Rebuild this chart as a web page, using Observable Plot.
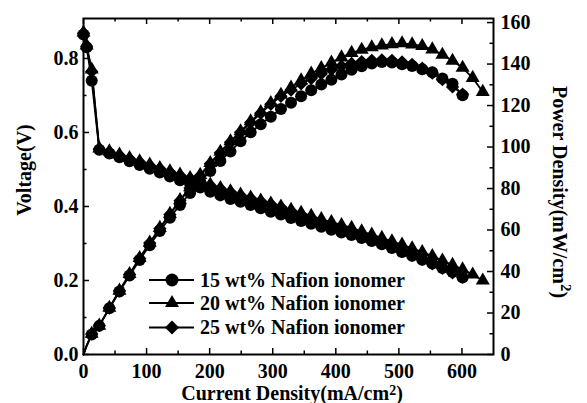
<!DOCTYPE html>
<html><head><meta charset="utf-8">
<script src="https://cdn.jsdelivr.net/npm/d3@7"></script>
<script src="https://cdn.jsdelivr.net/npm/@observablehq/plot@0.6"></script>
<style>body{margin:0;background:#fff} #chart svg{display:block}</style>
</head><body><div id="chart"></div>
<script>
// Current density (mA/cm^2)
const current = [0, 5, 13, 25, 41, 57, 73, 89, 105, 121, 137, 153, 169, 185, 201, 217, 233, 249, 265, 281, 297, 313, 329, 345, 361, 377, 393, 409, 425, 441, 457, 473, 489, 505, 521, 537, 553, 569, 585, 601, 617, 633];
// Voltage (V)
const volt15 = [0.865, 0.830, 0.740, 0.553, 0.543, 0.533, 0.522, 0.512, 0.502, 0.492, 0.481, 0.471, 0.461, 0.451, 0.440, 0.430, 0.420, 0.413, 0.404, 0.395, 0.386, 0.378, 0.369, 0.361, 0.353, 0.345, 0.337, 0.330, 0.323, 0.315, 0.307, 0.298, 0.288, 0.277, 0.267, 0.256, 0.246, 0.234, 0.223, 0.208];
const volt20 = [0.870, 0.835, 0.770, 0.557, 0.549, 0.540, 0.531, 0.522, 0.513, 0.504, 0.495, 0.486, 0.477, 0.468, 0.459, 0.450, 0.441, 0.432, 0.424, 0.416, 0.408, 0.400, 0.391, 0.383, 0.375, 0.366, 0.358, 0.350, 0.342, 0.333, 0.324, 0.315, 0.306, 0.297, 0.287, 0.277, 0.266, 0.254, 0.242, 0.230, 0.216, 0.200];
const volt25 = [0.868, 0.832, 0.765, 0.555, 0.547, 0.538, 0.529, 0.520, 0.511, 0.502, 0.493, 0.484, 0.475, 0.466, 0.457, 0.448, 0.439, 0.430, 0.422, 0.414, 0.406, 0.398, 0.388, 0.378, 0.368, 0.359, 0.349, 0.340, 0.330, 0.320, 0.310, 0.300, 0.290, 0.279, 0.268, 0.257, 0.245, 0.233, 0.221, 0.209];
// Power density (mW/cm^2)
const power15 = [0, 4.2, 9.6, 13.8, 22.3, 30.4, 38.1, 45.6, 52.7, 59.5, 65.9, 72.1, 77.9, 83.4, 88.4, 93.3, 97.9, 102.8, 107.1, 111.0, 114.6, 118.3, 121.4, 124.5, 127.4, 130.1, 132.4, 135.0, 137.3, 138.9, 140.3, 141.0, 140.8, 139.9, 139.1, 137.5, 136.0, 133.1, 130.5, 125.0];
const power20 = [0, 4.2, 10.0, 13.9, 22.5, 30.8, 38.8, 46.5, 53.9, 61.0, 67.8, 74.4, 80.6, 86.6, 92.3, 97.7, 102.8, 107.6, 112.4, 116.9, 121.2, 125.2, 128.6, 132.1, 135.4, 138.0, 140.7, 143.2, 145.4, 146.9, 148.1, 149.0, 149.6, 150.0, 149.5, 148.7, 147.1, 144.5, 141.6, 138.2, 133.3, 126.6];
const power25 = [0, 4.2, 9.9, 13.9, 22.4, 30.7, 38.6, 46.3, 53.7, 60.7, 67.5, 74.1, 80.3, 86.2, 91.9, 97.2, 102.3, 107.1, 111.8, 116.3, 120.6, 124.5, 127.5, 130.5, 133.0, 135.3, 137.3, 139.0, 140.3, 141.2, 141.8, 142.0, 141.8, 141.0, 139.8, 138.0, 135.6, 132.5, 129.0, 125.5];

const seriesNames = ["15 wt% Nafion ionomer", "20 wt% Nafion ionomer", "25 wt% Nafion ionomer"];
const symbols = ["circle", "triangle", "diamond2"];
const radii = [6, 5.2, 6];

const xTicks = [0, 100, 200, 300, 400, 500, 600];
const xMinor = [50, 150, 250, 350, 450, 550];
const vTicks = [0, 0.2, 0.4, 0.6, 0.8];
const vMinor = [0.1, 0.3, 0.5, 0.7];
const pTicks = [0, 20, 40, 60, 80, 100, 120, 140, 160];
const pMinor = [10, 30, 50, 70, 90, 110, 130, 150];

const W = 587, H = 403, mL = 83, mR = 94, mT = 18, mB = 49;
const pw = W - mL - mR, ph = H - mT - mB;
const vMax = 0.908;
const k = 0.897 / 160; // power -> voltage-scale factor

const volts = [volt15, volt20, volt25];
const powers = [power15, power20, power25];
const rows = [];
volts.forEach((vs, si) => vs.forEach((v, i) => rows.push({s: si, I: current[i], V: v, P: powers[si][i], i})));

const font = "'Liberation Serif', 'Times New Roman', serif";
const txt = {fontSize: 20, fontWeight: "bold", fontFamily: font};

const marks = [
  Plot.line(rows, {x: "I", y: "V", z: "s", stroke: "black", strokeWidth: 1.8}),
  Plot.line(rows, {x: "I", y: d => d.P * k, z: "s", stroke: "black", strokeWidth: 1.8})
];
[0, 2, 1].forEach(si => {
  const d = rows.filter(r => r.s === si);
  marks.push(Plot.dot(d, {x: "I", y: "V", symbol: () => symbols[si], r: radii[si], fill: "black", stroke: "none"}));
  marks.push(Plot.dot(d.filter(r => r.i >= 2), {x: "I", y: r => r.P * k, symbol: () => symbols[si], r: radii[si], fill: "black", stroke: "none"}));
});
const tk = {stroke: "black", strokeWidth: 1.5};
marks.push(
  Plot.tickX(xTicks, {x: d => d, insetTop: ph - 6, ...tk}),
  Plot.tickX(xMinor, {x: d => d, insetTop: ph - 3.5, ...tk}),
  Plot.tickX(xTicks, {x: d => d, insetBottom: ph - 6, ...tk}),
  Plot.tickX(xMinor, {x: d => d, insetBottom: ph - 3.5, ...tk}),
  Plot.tickY(vTicks, {y: d => d, insetRight: pw - 6, ...tk}),
  Plot.tickY(vMinor, {y: d => d, insetRight: pw - 3.5, ...tk}),
  Plot.tickY(pTicks.map(p => p * k), {y: d => d, insetLeft: pw - 6, ...tk}),
  Plot.tickY(pMinor.map(p => p * k), {y: d => d, insetLeft: pw - 3.5, ...tk}),
  Plot.axisX({ticks: xTicks, tickSize: 0, tickPadding: 9, label: null, ...txt}),
  Plot.axisY({ticks: vTicks, tickFormat: d3.format(".1f"), anchor: "left", tickSize: 0, tickPadding: 5, label: null, ...txt}),
  Plot.axisY({ticks: pTicks.map(p => p * k), tickFormat: d => String(Math.round(d / k)), anchor: "right", tickSize: 0, tickPadding: 7, label: null, ...txt}),
  Plot.frame({stroke: "black", strokeWidth: 2})
);

const chart = Plot.plot({
  width: W, height: H,
  marginLeft: mL, marginRight: mR, marginTop: mT, marginBottom: mB,
  x: {domain: [0, 650]},
  y: {domain: [0, vMax]},
  style: {fontFamily: font, fontSize: "20px", fontWeight: "bold", background: "white", color: "black"},
  marks
});
document.getElementById("chart").appendChild(chart);

const svg = d3.select(chart);
const g = svg.append("g").attr("font-family", font).attr("font-weight", "bold").attr("font-size", 20).attr("fill", "black").attr("text-anchor", "start");
// x title
const xt = g.append("text").attr("x", 292).attr("y", 400).attr("text-anchor", "middle");
xt.append("tspan").text("Current Density(mA/cm");
xt.append("tspan").attr("font-size", 14).attr("dy", -5).text("2");
xt.append("tspan").attr("dy", 5).text(")");
// left title
g.append("text").attr("transform", "translate(31,170) rotate(-90)").attr("text-anchor", "middle").text("Voltage(V)");
// right title
const rt = g.append("text").attr("transform", "translate(553,192) rotate(90)").attr("text-anchor", "middle");
rt.append("tspan").text("Power Density(mW/cm");
rt.append("tspan").attr("font-size", 15).attr("dy", -8).text("2");
rt.append("tspan").attr("dy", 8).text(")");
// legend
const legY = [280, 303, 327.5];
const d3sym = {circle: d3.symbolCircle, triangle: d3.symbolTriangle, diamond2: d3.symbolDiamond2};
const legR = [6.5, 5.2, 6.3];
seriesNames.forEach((name, i) => {
  const y = legY[i];
  g.append("line").attr("x1", 149).attr("x2", 194).attr("y1", y).attr("y2", y).attr("stroke", "black").attr("stroke-width", 1.8);
  g.append("path").attr("transform", `translate(172,${y})`).attr("d", d3.symbol(d3sym[symbols[i]], Math.PI * legR[i] * legR[i])());
  g.append("text").attr("x", 200).attr("y", y + 6.5).attr("text-anchor", "start").text(name);
});
</script>
</body></html>
